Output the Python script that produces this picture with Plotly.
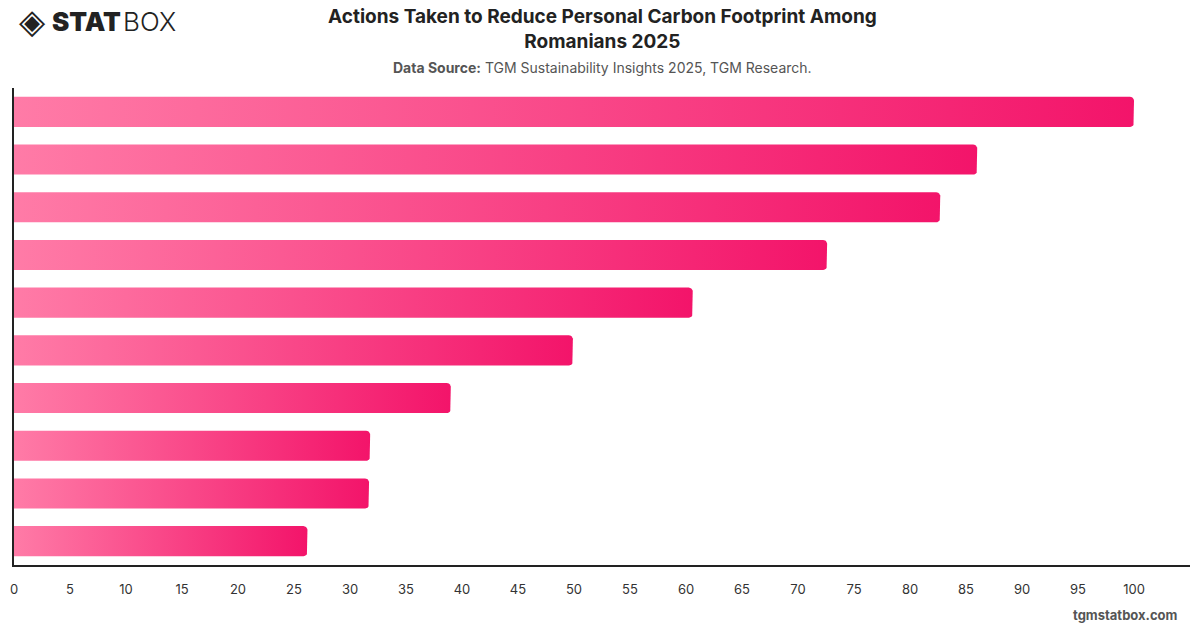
import math
import plotly.graph_objects as go

# ---- data ----
categories = ["Action 1", "Action 2", "Action 3", "Action 4", "Action 5",
              "Action 6", "Action 7", "Action 8", "Action 9", "Action 10"]
values = [100, 86, 82.7, 72.6, 60.6, 49.9, 39.0, 31.8, 31.7, 26.2]
x_ticks = list(range(0, 101, 5))

# ---- layout constants ----
W, H = 1200, 628
ML, MR, MT, MB = 10, 10, 88, 63
XMAX = 105
BAR_W = 0.63
RADIUS_PX = 4
plot_w = W - ML - MR
plot_h = H - MT - MB
n = len(categories)
dx = XMAX / plot_w * RADIUS_PX
dy = n / plot_h * RADIUS_PX


def px(X):
    return (X - ML) / plot_w


def py(Y):
    return (H - MB - Y) / plot_h


fig = go.Figure()
for i, (cat, v) in enumerate(zip(categories, values)):
    y0, y1 = i - BAR_W / 2, i + BAR_W / 2
    xs = [0, 0]
    ys = [y1, y0]
    for k in range(0, 7):
        a = math.pi / 2 + (math.pi / 2) * k / 6
        xs.append(v - dx + dx * math.cos(math.pi - a))
        ys.append(y0 + dy - dy * math.sin(a))
    for k in range(0, 7):
        a = (math.pi / 2) * k / 6
        xs.append(v - dx + dx * math.cos(a))
        ys.append(y1 - dy + dy * math.sin(a))
    xs.append(0)
    ys.append(y1)
    fig.add_trace(go.Scatter(
        x=xs, y=ys, mode="lines", fill="toself", name=cat,
        line=dict(width=0, color="rgba(0,0,0,0)"),
        fillgradient=dict(type="horizontal",
                          colorscale=[[0, "#FF7BA7"], [1, "#F3146A"]]),
        hoverinfo="skip", showlegend=False,
    ))

fig.update_layout(
    width=W, height=H,
    margin=dict(l=ML, r=MR, t=MT, b=MB),
    paper_bgcolor="white", plot_bgcolor="white",
    font=dict(family="Inter, Roboto, sans-serif", color="#333"),
    xaxis=dict(range=[0, XMAX], tickvals=x_ticks, showgrid=False, zeroline=False,
               showline=True, linecolor="#222", linewidth=1.5,
               tickfont=dict(size=13, color="#333"), ticklabelstandoff=12,
               fixedrange=True),
    yaxis=dict(range=[n - 0.5, -0.5], showticklabels=False, showgrid=False,
               zeroline=False, showline=True, linecolor="#222", linewidth=1.5,
               fixedrange=True),
    annotations=[
        dict(text="<b>Actions Taken to Reduce Personal Carbon Footprint Among<br>Romanians 2025</b>",
             x=px(600), y=py(29), xref="paper", yref="paper", yanchor="middle", xanchor="center",
             showarrow=False, font=dict(size=19, color="#222"), align="center"),
        dict(text="<b>Data Source:</b> TGM Sustainability Insights 2025, TGM Research.",
             x=px(600), y=py(67), xref="paper", yref="paper", yanchor="middle",
             xanchor="center", showarrow=False, font=dict(size=14, color="#555")),
        dict(text="<b>tgmstatbox.com</b>", x=px(1180), y=py(615), xref="paper",
             yref="paper", xanchor="right", yanchor="middle", showarrow=False,
             font=dict(size=13, color="#555")),
        dict(text="◈", x=px(13), y=py(21), xref="paper", yref="paper",
             xanchor="left", yanchor="middle", showarrow=False,
             font=dict(size=34, color="#222", family="DejaVu Sans")),
        dict(text="STAT", x=px(46), y=py(21), xref="paper", yref="paper",
             xanchor="left", yanchor="middle", showarrow=False,
             font=dict(size=26, color="#222", family="Inter, sans-serif", weight=900)),
        dict(text="BOX", x=px(117), y=py(21), xref="paper", yref="paper",
             xanchor="left", yanchor="middle", showarrow=False,
             font=dict(size=26, color="#222", family="Inter, sans-serif", weight=300)),
    ],
)

fig.write_html("out.html")
